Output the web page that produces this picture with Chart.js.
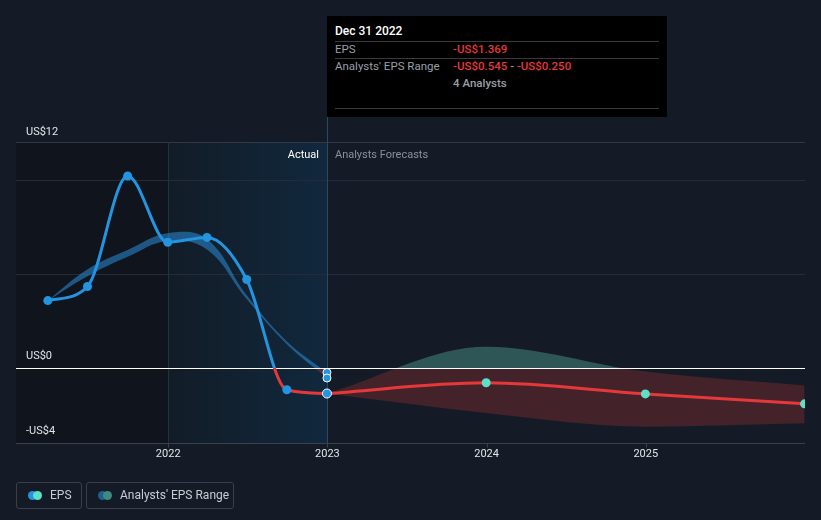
<!DOCTYPE html>
<html>
<head>
<meta charset="utf-8">
<script src="https://cdn.jsdelivr.net/npm/chart.js@4.4.1/dist/chart.umd.min.js"></script>
<style>
  html, body { margin: 0; padding: 0; background: #151b26; }
  body { width: 821px; height: 520px; position: relative; overflow: hidden; font-family: Roboto, "Noto Sans", sans-serif; }
  #wrap { position: absolute; left: 0; top: 0; width: 821px; height: 520px; }
  .tip { position: absolute; left: 327px; top: 16px; width: 340px; height: 101px; background: #000; color: #fff; }
  .tip .t { position: absolute; left: 8px; top: 8px; font-size: 12px; font-weight: 500; color: #fff; }
  .tip .hl { position: absolute; left: 8px; width: 324px; height: 1px; background: #3a3a3a; }
  .tip .lab { position: absolute; left: 8px; font-size: 11.5px; color: #9a9ea6; }
  .tip .val { position: absolute; left: 126px; font-size: 11.5px; font-weight: 500; color: #e5383b; }
  .tip .gr { color: #9a9ea6; }
  .lg { position: absolute; top: 482px; height: 27px; border: 1px solid #3a3f4a; border-radius: 3px; box-sizing: border-box; }
  .lg .d { position: absolute; top: 8px; width: 9px; height: 9px; border-radius: 50%; }
  .lg .tx { position: absolute; top: 5px; font-size: 12px; color: #c9ccd2; white-space: nowrap; }
</style>
</head>
<body>
<div id="wrap"><canvas id="c" width="821" height="520"></canvas></div>

<div class="tip">
  <div class="t">Dec 31 2022</div>
  <div class="hl" style="top:25px"></div>
  <div class="lab" style="top:26px">EPS</div>
  <div class="val" style="top:26px">-US$1.369</div>
  <div class="hl" style="top:42px"></div>
  <div class="lab" style="top:43px">Analysts' EPS Range</div>
  <div class="val" style="top:43px">-US$0.545<span class="gr"> - </span>-US$0.250</div>
  <div class="val" style="top:60px;color:#9a9ea6">4 Analysts</div>
  <div class="hl" style="top:92px"></div>
</div>

<div class="lg" style="left:16px;width:66px">
  <div class="d" style="left:11px;background:#2394df"></div>
  <div class="d" style="left:16px;background:#5de0c8"></div>
  <div class="tx" style="left:33px">EPS</div>
</div>
<div class="lg" style="left:86px;width:148px">
  <div class="d" style="left:11px;background:#1f5f8f"></div>
  <div class="d" style="left:16px;background:#3f8a80"></div>
  <div class="tx" style="left:33px">Analysts' EPS Range</div>
</div>

<script>
// ---- data ----
const epsDates = ['2021-03-31','2021-06-30','2021-09-30','2021-12-31','2022-03-31','2022-06-30','2022-09-30','2022-12-31'];
const epsValues = [3.57, 4.32, 10.19, 6.67, 6.93, 4.69, -1.17, -1.369];
const pastRangeHigh = [3.57, 5.23, 6.26, 7.15, 6.83, 3.85, 1.4, -0.25];
const pastRangeLow  = [3.57, 4.87, 5.90, 6.74, 6.29, 3.65, 1.25, -0.545];
const forecastDates = ['2022-12-31','2023-12-31','2024-12-31','2025-12-31'];
const forecastValues = [-1.369, -0.80, -1.39, -1.92];
const forecastHigh = [-1.369, 1.12, -0.20, -0.94];
const forecastLow  = [-1.369, -2.40, -3.13, -2.95];
const yTickLabels = [{v: 12, t: 'US$12'}, {v: 0, t: 'US$0'}, {v: -4, t: '-US$4'}];
const yGridValues = [12, 10, 5];
const xTickYears = [2022, 2023, 2024, 2025];
const actualEnd = '2022-12-31';

function toYear(s) {
  const d = new Date(s + 'T00:00:00Z');
  const y = d.getUTCFullYear();
  const start = Date.UTC(y, 0, 1), end = Date.UTC(y + 1, 0, 1);
  return y + (d.getTime() - start) / (end - start);
}
const pts = (dates, vals) => dates.map((d, i) => ({x: toYear(d), y: vals[i]}));

function zeroGrad(chart, above, below) {
  const {ctx, chartArea, scales} = chart;
  if (!chartArea) return above;
  const z = scales.y.getPixelForValue(0);
  const f = Math.min(1, Math.max(0, (z - chartArea.top) / (chartArea.bottom - chartArea.top)));
  const g = ctx.createLinearGradient(0, chartArea.top, 0, chartArea.bottom);
  g.addColorStop(0, above); g.addColorStop(f, above);
  g.addColorStop(f, below); g.addColorStop(1, below);
  return g;
}

const FONT = 'Roboto, "Noto Sans", sans-serif';

const bgPlugin = {
  id: 'bg',
  beforeDraw(chart) {
    const {ctx, chartArea: a, scales: {x, y}} = chart;
    ctx.save();
    ctx.fillStyle = '#151b26';
    ctx.fillRect(0, 0, chart.width, chart.height);
    const x22 = x.getPixelForValue(2022);
    const xA = x.getPixelForValue(toYear(actualEnd));
    ctx.fillStyle = '#10141d';
    ctx.fillRect(a.left, a.top, x22 - a.left, a.bottom - a.top);
    const g = ctx.createLinearGradient(x22, 0, xA, 0);
    g.addColorStop(0, '#121c27');
    g.addColorStop(1, '#11283d');
    ctx.fillStyle = g;
    ctx.fillRect(x22, a.top, xA - x22, a.bottom - a.top);
    ctx.lineWidth = 1;
    ctx.strokeStyle = '#262c37';
    yGridValues.forEach(v => {
      const py = Math.round(y.getPixelForValue(v)) + 0.5;
      ctx.beginPath(); ctx.moveTo(a.left, py); ctx.lineTo(a.right, py); ctx.stroke();
    });
    ctx.strokeStyle = '#323845';
    let py = Math.round(y.getPixelForValue(12)) + 0.5;
    ctx.beginPath(); ctx.moveTo(a.left, py); ctx.lineTo(a.right, py); ctx.stroke();
    ctx.strokeStyle = '#1c3347';
    let px = Math.round(x22) + 0.5;
    ctx.beginPath(); ctx.moveTo(px, a.top); ctx.lineTo(px, a.bottom); ctx.stroke();
    ctx.strokeStyle = '#2b4862';
    px = Math.round(xA) + 0.5;
    ctx.beginPath(); ctx.moveTo(px, 117); ctx.lineTo(px, a.bottom); ctx.stroke();
    ctx.strokeStyle = '#3b414c';
    py = Math.round(y.getPixelForValue(-4)) + 0.5;
    ctx.beginPath(); ctx.moveTo(a.left, py); ctx.lineTo(a.right, py); ctx.stroke();
    xTickYears.forEach(yr => {
      const tx = Math.round(x.getPixelForValue(yr)) + 0.5;
      ctx.beginPath(); ctx.moveTo(tx, py); ctx.lineTo(tx, py + 4); ctx.stroke();
    });
    ctx.restore();
  },
  afterDatasetDraw(chart, args) {
    if (args.index !== 3) return;
    const {ctx, chartArea: a, scales: {y}} = chart;
    const py = Math.round(y.getPixelForValue(0)) + 0.5;
    ctx.save();
    ctx.strokeStyle = '#ffffff';
    ctx.lineWidth = 1.2;
    ctx.beginPath(); ctx.moveTo(a.left, py); ctx.lineTo(a.right, py); ctx.stroke();
    ctx.restore();
  },
  afterDraw(chart) {
    const {ctx, chartArea: a, scales: {x, y}} = chart;
    ctx.save();
    ctx.font = '11px ' + FONT;
    ctx.fillStyle = '#e2e4e8';
    ctx.textBaseline = 'alphabetic';
    ctx.textAlign = 'left';
    yTickLabels.forEach(t => {
      ctx.fillText(t.t, a.left + 10, y.getPixelForValue(t.v) - (t.v === 12 ? 7 : 9));
    });
    ctx.textAlign = 'center';
    ctx.textBaseline = 'middle';
    xTickYears.forEach(yr => {
      ctx.fillText(String(yr), x.getPixelForValue(yr), 454);
    });
    const xA = x.getPixelForValue(toYear(actualEnd));
    ctx.textAlign = 'right';
    ctx.fillStyle = '#ffffff';
    ctx.fillText('Actual', xA - 8, 155);
    ctx.textAlign = 'left';
    ctx.fillStyle = '#8b909a';
    ctx.fillText('Analysts Forecasts', xA + 8, 155);
    ctx.restore();
  }
};

const lastOnly = (n) => (c) => c.dataIndex === n - 1 ? 4 : 0;

new Chart(document.getElementById('c'), {
  type: 'line',
  data: {
    datasets: [
      {
        data: pts(epsDates, pastRangeHigh), order: 5,
        borderWidth: 0, tension: 0.4,
        fill: '+1',
        backgroundColor: c => zeroGrad(c.chart, 'rgba(40,130,200,0.6)', 'rgba(140,45,55,0.55)'),
        pointRadius: lastOnly(epsDates.length), pointBackgroundColor: '#2394df', pointBorderColor: '#ffffff', pointBorderWidth: 1
      },
      {
        data: pts(epsDates, pastRangeLow), order: 4,
        borderWidth: 0, tension: 0.4, fill: false,
        pointRadius: lastOnly(epsDates.length), pointBackgroundColor: '#2394df', pointBorderColor: '#ffffff', pointBorderWidth: 1
      },
      {
        data: pts(forecastDates, forecastHigh), order: 3,
        borderWidth: 0, cubicInterpolationMode: 'monotone', fill: '+1',
        backgroundColor: c => zeroGrad(c.chart, 'rgba(71,145,134,0.5)', 'rgba(115,41,46,0.5)'),
        pointRadius: 0
      },
      {
        data: pts(forecastDates, forecastLow), order: 2,
        borderWidth: 0, cubicInterpolationMode: 'monotone', fill: false, pointRadius: 0
      },
      {
        data: pts(forecastDates, forecastValues), order: 1,
        borderColor: '#e5383b', borderWidth: 3, cubicInterpolationMode: 'monotone', fill: false,
        pointRadius: c => c.dataIndex === 0 ? 0 : 4.5, pointBackgroundColor: '#5de0c8', pointBorderWidth: 0
      },
      {
        data: pts(epsDates, epsValues), order: 0,
        borderColor: c => zeroGrad(c.chart, '#2394df', '#e5383b'),
        borderWidth: 3, cubicInterpolationMode: 'monotone', fill: false,
        pointRadius: 4.5, pointBackgroundColor: '#2394df',
        pointBorderColor: c => c.dataIndex === epsDates.length - 1 ? '#ffffff' : '#2394df',
        pointBorderWidth: c => c.dataIndex === epsDates.length - 1 ? 1 : 0
      }
    ]
  },
  options: {
    responsive: false, animation: false, events: [],
    layout: { padding: { left: 16, right: 16, top: 142, bottom: 77 } },
    plugins: { legend: { display: false }, tooltip: { enabled: false } },
    scales: {
      x: { type: 'linear', display: false, min: 2021.044, max: 2026.0 },
      y: { type: 'linear', display: false, min: -4, max: 12 }
    }
  },
  plugins: [bgPlugin]
});
</script>
</body>
</html>
